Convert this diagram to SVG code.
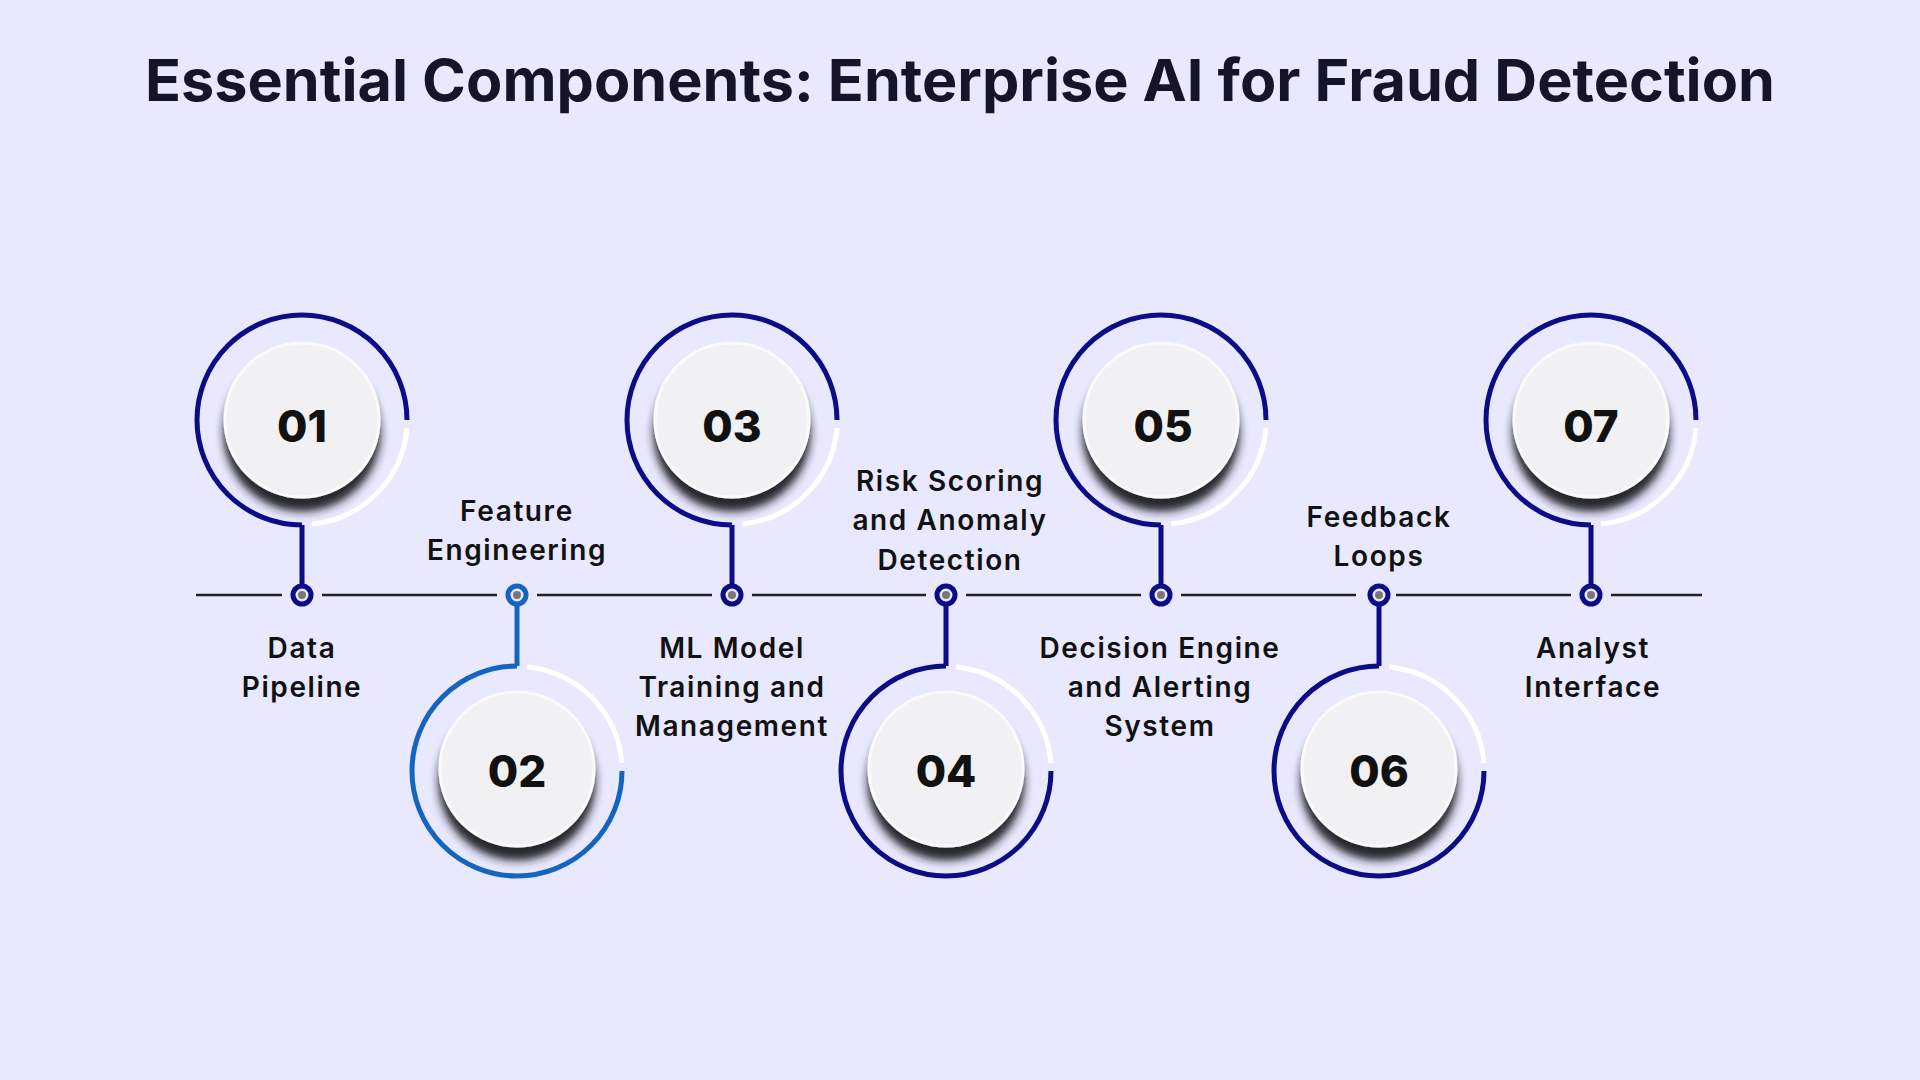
<svg xmlns="http://www.w3.org/2000/svg" width="1920" height="1080" viewBox="0 0 1920 1080">
<defs>
<filter id="sh" x="-30%" y="-30%" width="160%" height="170%"><feDropShadow dx="0" dy="13" stdDeviation="4" flood-color="#1a1a22" flood-opacity="0.95"/></filter>
<style>
.t{font-family:Inter,"Liberation Sans",sans-serif;font-weight:700;fill:#14142b}
.lb{font-family:Inter,"Open Sans",sans-serif;font-weight:600;font-size:28px;letter-spacing:1.6px;fill:#111;text-anchor:middle}
.num{font-family:Inter,"Liberation Sans",sans-serif;font-weight:800;font-size:44px;fill:#111;text-anchor:middle}
.ring{fill:none;stroke:#0c0c86;stroke-width:5}
.wr{fill:none;stroke:#fff;stroke-width:5}
.disc{fill:#f1f1f3;stroke:#fafafa;stroke-width:3;filter:url(#sh)}
.stem{stroke:#0c0c86;stroke-width:5}
.dot{fill:#e8e8fe;stroke:#0c0c86;stroke-width:5}
.in{fill:#777}
.ln{stroke:#222;stroke-width:2.5}
</style>
</defs>
<rect width="1920" height="1080" fill="#e8e8fe"/>
<text class="t" x="960" y="101" font-size="58" text-anchor="middle" textLength="1630" lengthAdjust="spacingAndGlyphs">Essential Components: Enterprise AI for Fraud Detection</text>
<g id="connectors">
<line class="ln" x1="196" y1="595" x2="282" y2="595"/>
<line class="ln" x1="322" y1="595" x2="497" y2="595"/>
<line class="ln" x1="537" y1="595" x2="712" y2="595"/>
<line class="ln" x1="752" y1="595" x2="926" y2="595"/>
<line class="ln" x1="966" y1="595" x2="1141" y2="595"/>
<line class="ln" x1="1181" y1="595" x2="1356" y2="595"/>
<line class="ln" x1="1396" y1="595" x2="1571" y2="595"/>
<line class="ln" x1="1611" y1="595" x2="1702" y2="595"/>
</g>
<g id="n1">
<path class="ring" d="M302,525 A105,105 0 1 1 407,420"/>
<path class="wr" d="M407,428 A105,105 0 0 1 312,524"/>
<line class="stem" x1="302" y1="525" x2="302" y2="586"/>
<circle class="dot" cx="302" cy="595" r="9"/><circle class="in" cx="302" cy="595" r="4"/>
<circle class="disc" cx="302" cy="420" r="77"/>
<text class="num" x="302" y="442">01</text>
<text class="lb" x="302" y="658">Data</text><text class="lb" x="302" y="697">Pipeline</text>
</g>
<g id="n2">
<path class="ring" style="stroke:#1565c0" d="M517,666 A105,105 0 1 0 622,771"/>
<path class="wr" d="M622,763 A105,105 0 0 0 527,667"/>
<line class="stem" style="stroke:#1565c0" x1="517" y1="604" x2="517" y2="666"/>
<circle class="dot" style="stroke:#1565c0" cx="517" cy="595" r="9"/><circle class="in" cx="517" cy="595" r="4"/>
<circle class="disc" cx="517" cy="769" r="77"/>
<text class="num" x="517" y="787">02</text>
<text class="lb" x="517" y="521">Feature</text><text class="lb" x="517" y="560">Engineering</text>
</g>
<g id="n3">
<path class="ring" d="M732,525 A105,105 0 1 1 837,420"/>
<path class="wr" d="M837,428 A105,105 0 0 1 742,524"/>
<line class="stem" x1="732" y1="525" x2="732" y2="586"/>
<circle class="dot" cx="732" cy="595" r="9"/><circle class="in" cx="732" cy="595" r="4"/>
<circle class="disc" cx="732" cy="420" r="77"/>
<text class="num" x="732" y="442">03</text>
<text class="lb" x="732" y="658">ML Model</text><text class="lb" x="732" y="697">Training and</text><text class="lb" x="732" y="736">Management</text>
</g>
<g id="n4">
<path class="ring" d="M946,666 A105,105 0 1 0 1051,771"/>
<path class="wr" d="M1051,763 A105,105 0 0 0 956,667"/>
<line class="stem" x1="946" y1="604" x2="946" y2="666"/>
<circle class="dot" cx="946" cy="595" r="9"/><circle class="in" cx="946" cy="595" r="4"/>
<circle class="disc" cx="946" cy="769" r="77"/>
<text class="num" x="946" y="787">04</text>
<text class="lb" x="950" y="491">Risk Scoring</text><text class="lb" x="950" y="530">and Anomaly</text><text class="lb" x="950" y="570">Detection</text>
</g>
<g id="n5">
<path class="ring" d="M1161,525 A105,105 0 1 1 1266,420"/>
<path class="wr" d="M1266,428 A105,105 0 0 1 1171,524"/>
<line class="stem" x1="1161" y1="525" x2="1161" y2="586"/>
<circle class="dot" cx="1161" cy="595" r="9"/><circle class="in" cx="1161" cy="595" r="4"/>
<circle class="disc" cx="1161" cy="420" r="77"/>
<text class="num" x="1163" y="442">05</text>
<text class="lb" x="1160" y="658">Decision Engine</text><text class="lb" x="1160" y="697">and Alerting</text><text class="lb" x="1160" y="736">System</text>
</g>
<g id="n6">
<path class="ring" d="M1379,666 A105,105 0 1 0 1484,771"/>
<path class="wr" d="M1484,763 A105,105 0 0 0 1389,667"/>
<line class="stem" x1="1379" y1="604" x2="1379" y2="666"/>
<circle class="dot" cx="1379" cy="595" r="9"/><circle class="in" cx="1379" cy="595" r="4"/>
<circle class="disc" cx="1379" cy="769" r="77"/>
<text class="num" x="1379" y="787">06</text>
<text class="lb" x="1379" y="527">Feedback</text><text class="lb" x="1379" y="566">Loops</text>
</g>
<g id="n7">
<path class="ring" d="M1591,525 A105,105 0 1 1 1696,420"/>
<path class="wr" d="M1696,428 A105,105 0 0 1 1601,524"/>
<line class="stem" x1="1591" y1="525" x2="1591" y2="586"/>
<circle class="dot" cx="1591" cy="595" r="9"/><circle class="in" cx="1591" cy="595" r="4"/>
<circle class="disc" cx="1591" cy="420" r="77"/>
<text class="num" x="1591" y="442">07</text>
<text class="lb" x="1593" y="658">Analyst</text><text class="lb" x="1593" y="697">Interface</text>
</g>
</svg>
